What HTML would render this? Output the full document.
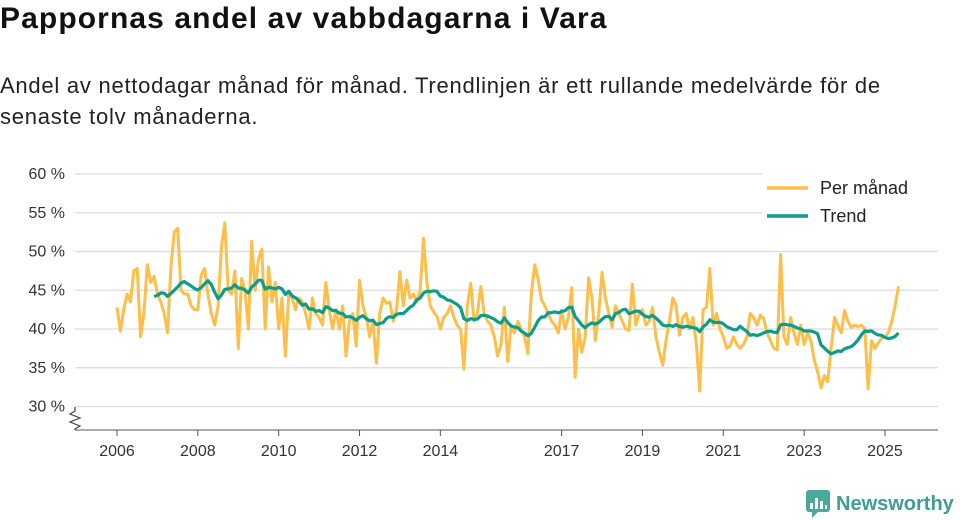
<!DOCTYPE html>
<html><head><meta charset="utf-8"><style>
body{margin:0;background:#fff;font-family:"Liberation Sans",sans-serif;}
.wrap{position:relative;width:960px;height:520px;overflow:hidden;}
h1{position:absolute;left:0;top:2px;margin:0;font-size:30px;font-weight:bold;color:#111;letter-spacing:1.1px;}
p{position:absolute;left:0;top:70px;margin:0;font-size:22px;line-height:31px;color:#222;width:930px;letter-spacing:0.75px;}
svg{position:absolute;left:0;top:0;}
</style></head><body>
<div class="wrap">
<h1>Pappornas andel av vabbdagarna i Vara</h1>
<p>Andel av nettodagar månad för månad. Trendlinjen är ett rullande medelvärde för de senaste tolv månaderna.</p>
<svg id="chart" width="960" height="520"></svg>
</div>
<script>
const startYear = 2006;
const monthly = [
42.8,39.7,42.5,44.5,43.5,47.5,47.8,39,42,48.3,46,46.8,
44.5,43.5,42,39.5,48,52.5,53,45,44.5,44.5,43,42.5,
42.5,47,47.8,44.5,42,40.5,43,50.5,53.7,45,44.5,47.5,
37.5,46.5,45,40,51.3,45,49,50.3,40,48,43.5,46,
40,44,36.5,44.7,44,42.5,44,43.5,42,40,44,42,
41.5,40.5,46,42.5,40,42.5,40,43,36.5,41,42,37.8,
46.3,43,41.5,39,41,35.6,42,44,43.3,43.5,41,42.5,
47.4,43,46.3,44,44.5,43.5,45,51.7,46,43,42.2,41.6,
40,41.5,42,43,41.5,40.5,40,34.8,43,45.9,41,42,
45.5,42,41,40.5,39,36.5,38,42.8,35.8,40.5,39.5,41,
40,39,36.8,44.5,48.3,46.5,43.8,43,42,41,40.5,39.5,
42.4,40,41.5,45.3,33.8,40,37,39,46.6,44,38.5,42,
47.3,44,42,40.2,43,42,41,40,39.8,45.8,40.5,42,
42.5,40.5,41,42.8,39,37,35.3,38.5,41,44,43,39.2,
41.5,42,40,41.5,38,32,42.5,42.8,47.8,40.5,42,40,
39,37.5,37.8,39,38,37.5,38,39,42,41.5,40.5,41.8,
41.3,39.5,38.5,37.5,37.3,49.6,39,38,41.5,39.5,38,40.5,
38,39.5,38.5,36,34.5,32.4,34,33.2,37.5,41.5,40.5,39.5,
42.4,41,40.2,40.5,40.3,40.5,40,32.3,38.5,37.5,38.2,38.8,
39,39.5,41,43,45.5];
const yTicks = [30,35,40,45,50,55,60];
const xTickYears = [2006,2008,2010,2012,2014,2017,2019,2021,2023,2025];
const trendWindow = 12;

const NS='http://www.w3.org/2000/svg';
const svg=document.getElementById('chart');
const X0=75,X1=938;
const xs=t=>117+(t-2006)*40.42;
const ys=v=>174+(60-v)*7.75;
function mk(tag,attrs,parent){const e=document.createElementNS(NS,tag);for(const k in attrs)e.setAttribute(k,attrs[k]);(parent||svg).appendChild(e);return e;}

const grid=mk('g',{});


yTicks.forEach(v=>{
  const l=mk('line',{x1:X0,x2:X1,y1:ys(v),y2:ys(v),stroke:'#dcdcdc','stroke-width':1.3},grid);
  
  
  const t=mk('text',{x:65,y:ys(v)+5,'text-anchor':'end','font-size':16,fill:'#333'});
  t.textContent=v+' %';
  
  
});
const ax=mk('line',{x1:X0,x2:X1,y1:430,y2:430,stroke:'#555','stroke-width':1});


const brk=mk('path',{d:'M75 407 L75 411 L70 414 L80 418 L70 422 L80 426 L75 429 L75 430',fill:'none',stroke:'#444','stroke-width':1.2});


xTickYears.forEach(y=>{
  const l=mk('line',{x1:xs(y),x2:xs(y),y1:430,y2:436,stroke:'#555'});
  
  
  const t=mk('text',{x:xs(y),y:456,'text-anchor':'middle','font-size':16,fill:'#333'});
  t.textContent=y;
  
  
});
const tx=i=>xs(startYear+i/12);
let d=monthly.map((v,i)=>(i?'L':'M')+tx(i).toFixed(1)+' '+ys(v).toFixed(1)).join(' ');
const pm=mk('path',{d:d,fill:'none',stroke:'#fdbf4a','stroke-width':3,'stroke-linejoin':'round'});


const trend=[];
for(let i=trendWindow-1;i<monthly.length;i++){let s=0;for(let j=i-trendWindow+1;j<=i;j++)s+=monthly[j];trend.push([i,s/trendWindow]);}
d=trend.map((p,k)=>(k?'L':'M')+tx(p[0]).toFixed(1)+' '+ys(p[1]).toFixed(1)).join(' ');
const tl=mk('path',{d:d,fill:'none',stroke:'#0c9c8c','stroke-width':3.2,'stroke-linejoin':'round'});



const lg=mk('g',{});


mk('rect',{x:762,y:172,width:176,height:70,fill:'#fff'},lg);
[['Per månad','#fdbf4a',188],['Trend','#0c9c8c',216]].forEach(e=>{
  const g=mk('g',{},lg);
  
  
  mk('line',{x1:767,x2:808,y1:e[2],y2:e[2],stroke:e[1],'stroke-width':3.5},g);
  const t=mk('text',{x:820,y:e[2]+6,'font-size':18,fill:'#222'},g);
  t.textContent=e[0];
});
const logo=mk('g',{});


mk('rect',{x:806,y:490,width:24,height:22,rx:3,fill:'#4aa89c'},logo);
mk('path',{d:'M812 512 L812 518 L818 512 Z',fill:'#4aa89c'},logo);
[[810,503,3,6],[815,498,3,11],[820,501,3,8],[825,505,2,4]].forEach(b=>mk('rect',{x:b[0],y:b[1],width:b[2],height:b[3],fill:'#fff'},logo));
const lt=mk('text',{x:836,y:510,'font-size':20,'font-weight':'bold',fill:'#3f9d92'},logo);
lt.textContent='Newsworthy';
</script>
</body></html>
